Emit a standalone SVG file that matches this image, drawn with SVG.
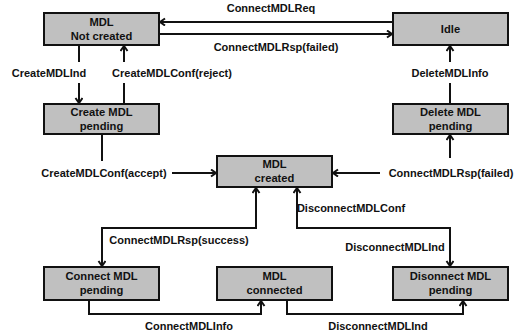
<svg xmlns="http://www.w3.org/2000/svg" width="519" height="336" viewBox="0 0 519 336">
<style>
.box{fill:#c0c0c0;stroke:#111;stroke-width:2}
.bt{font-family:"Liberation Sans",Arial,sans-serif;font-weight:bold;font-size:11.2px;fill:#111;text-anchor:middle}
.lb{font-family:"Liberation Sans",Arial,sans-serif;font-weight:bold;font-size:11px;fill:#111;text-anchor:middle}
.c{fill:none;stroke:#111;stroke-width:2}
</style>
<defs>
<marker id="ah" markerUnits="userSpaceOnUse" markerWidth="10" markerHeight="10" refX="6" refY="4" orient="auto-start-reverse" viewBox="0 0 10 10">
<path d="M1,0.5 L6,4 L1,7.5" fill="none" stroke="#111" stroke-width="2"/>
</marker>
</defs>
<rect width="519" height="336" fill="#fff"/>
<g id="nodes">
<g id="not-created"><rect class="box" x="44" y="13" width="115" height="32"/><text class="bt" x="101.5" y="26">MDL</text><text class="bt" x="101.5" y="40">Not created</text></g>
<g id="idle"><rect class="box" x="393" y="13" width="115" height="32"/><text class="bt" x="450.5" y="33">Idle</text></g>
<g id="create-pending"><rect class="box" x="44" y="104" width="115" height="30"/><text class="bt" x="101.5" y="116">Create MDL</text><text class="bt" x="101.5" y="130">pending</text></g>
<g id="delete-pending"><rect class="box" x="393" y="104" width="115" height="30"/><text class="bt" x="450.5" y="116">Delete MDL</text><text class="bt" x="450.5" y="130">pending</text></g>
<g id="created"><rect class="box" x="217" y="156" width="115" height="31"/><text class="bt" x="274.5" y="168">MDL</text><text class="bt" x="274.5" y="182">created</text></g>
<g id="connect-pending"><rect class="box" x="44" y="267" width="115" height="33"/><text class="bt" x="101.5" y="280">Connect MDL</text><text class="bt" x="101.5" y="294">pending</text></g>
<g id="connected"><rect class="box" x="217" y="267" width="115" height="33"/><text class="bt" x="274.5" y="280">MDL</text><text class="bt" x="274.5" y="294">connected</text></g>
<g id="disconnect-pending"><rect class="box" x="393" y="267" width="115" height="33"/><text class="bt" x="450.5" y="280">Disonnect MDL</text><text class="bt" x="450.5" y="294">pending</text></g>
</g>
<g id="connectors">
<line class="c" x1="392" y1="22" x2="160" y2="22" marker-end="url(#ah)"/>
<line class="c" x1="160" y1="34" x2="392" y2="34" marker-end="url(#ah)"/>
<line class="c" x1="79" y1="46" x2="79" y2="62"/>
<line class="c" x1="79" y1="83" x2="79" y2="103" marker-end="url(#ah)"/>
<line class="c" x1="124" y1="103" x2="124" y2="83"/>
<line class="c" x1="124" y1="62" x2="124" y2="46" marker-end="url(#ah)"/>
<line class="c" x1="102" y1="135" x2="102" y2="161"/>
<line class="c" x1="172" y1="173" x2="216" y2="173" marker-end="url(#ah)"/>
<line class="c" x1="450" y1="62" x2="450" y2="46" marker-end="url(#ah)"/>
<line class="c" x1="450" y1="103" x2="450" y2="83"/>
<line class="c" x1="450" y1="158" x2="450" y2="135" marker-end="url(#ah)"/>
<line class="c" x1="380" y1="173" x2="333" y2="173" marker-end="url(#ah)"/>
<polyline class="c" points="102,266 102,228 256,228 256,188" marker-start="url(#ah)" marker-end="url(#ah)"/>
<polyline class="c" points="297,188 297,228 450,228 450,266" marker-start="url(#ah)" marker-end="url(#ah)"/>
<polyline class="c" points="89,301 89,314 261,314 261,301" marker-end="url(#ah)"/>
<polyline class="c" points="287,301 287,314 463,314 463,301" marker-end="url(#ah)"/>
<text class="lb" x="271" y="12">ConnectMDLReq</text>
<text class="lb" x="276" y="51">ConnectMDLRsp(failed)</text>
<text class="lb" x="49" y="77">CreateMDLInd</text>
<text class="lb" x="172" y="77">CreateMDLConf(reject)</text>
<text class="lb" x="450" y="77">DeleteMDLInfo</text>
<text class="lb" x="104" y="177">CreateMDLConf(accept)</text>
<text class="lb" x="451" y="177">ConnectMDLRsp(failed)</text>
<text class="lb" x="179" y="244">ConnectMDLRsp(success)</text>
<text class="lb" x="351" y="212">DisconnectMDLConf</text>
<text class="lb" x="395" y="251">DisconnectMDLInd</text>
<text class="lb" x="189" y="330">ConnectMDLInfo</text>
<text class="lb" x="378" y="330">DisconnectMDLInd</text>
</g>
</svg>
